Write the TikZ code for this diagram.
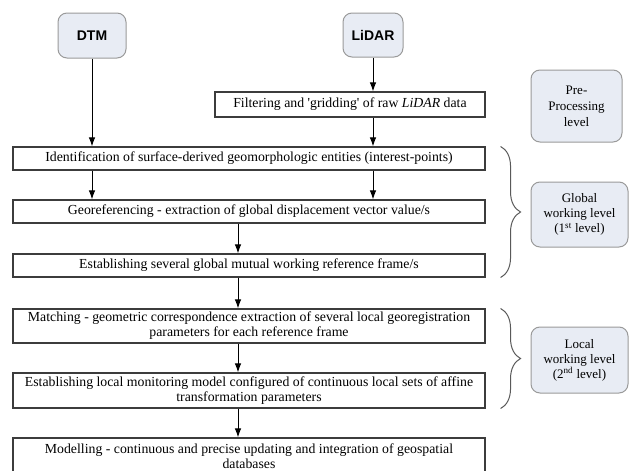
\documentclass[tikz,border=0pt]{standalone}
\usepackage{fontspec}
\setmainfont{Liberation Serif}
\setsansfont{Liberation Sans}
\usetikzlibrary{arrows.meta,decorations.pathreplacing}
\definecolor{boxline}{HTML}{3C3C3C}
\definecolor{srcfill}{HTML}{E8ECF4}
\definecolor{srcline}{HTML}{9A9A9A}
\begin{document}
\begin{tikzpicture}[x=1pt,y=-1pt,>={Latex[length=9pt,width=6.5pt]},
  line width=1pt,
  proc/.style={draw=boxline,fill=white,line width=1.1pt,minimum width=472pt,inner sep=0pt,align=center,font=\fontsize{13.8}{15}\selectfont},
  src/.style={draw=srcline,fill=srcfill,rounded corners=9pt,inner sep=0pt,align=center},
  brc/.style={draw=boxline!85,line width=1pt,decorate,decoration={brace,amplitude=20pt}}]
\useasboundingbox (0,0) rectangle (633,471);
%
\node[src,minimum width=68pt,minimum height=45pt,font=\sffamily\bfseries\fontsize{14}{16}\selectfont](dtm) at (92,35.5) {DTM};
\node[src,minimum width=60pt,minimum height=44pt,font=\sffamily\bfseries\fontsize{14}{16}\selectfont](lidar) at (373,35) {LiDAR};
%
\node[proc,minimum width=270pt,minimum height=25pt](filt) at (350,104.5) {Filtering and \textquotesingle gridding\textquotesingle{} of raw \textit{LiDAR} data};
\draw[->](lidar) -- (lidar |- filt.north) {};
%
\node[src,minimum width=91pt,minimum height=72pt,font=\fontsize{13}{16}\selectfont](pre) at (576.5,106) {Pre-\\Processing\\level};
%
\node[proc,minimum height=23pt](ident) at (249,158.5) {Identification of surface-derived geomorphologic entities (interest-points)};
\draw[->](dtm) -- (dtm |- ident.north) {};
\draw[->](lidar |- filt.south) -- (lidar |- ident.north) {};
%
\node[proc,minimum height=23pt](georef) at (249,211.5) {Georeferencing - extraction of global displacement vector value/s};
\draw[->](ident.south -| dtm) -- (georef.north -| dtm) {};
\draw[->](ident.south -| lidar) -- (georef.north -| lidar) {};
%
\coordinate(ax) at (238,0);
\node[proc,minimum height=23pt](estg) at (249,265.5) {Establishing several global mutual working reference frame/s};
\draw[->](georef.south -| ax) -- (estg.north -| ax) {};
%
\node[src,minimum width=97pt,minimum height=65pt,font=\fontsize{13}{15}\selectfont](glob) at (579.5,214.5) {Global\\working level\\(1\textsuperscript{st} level)};
\draw[brc] ([xshift=15pt]ident.north east) -- ([xshift=15pt]estg.south east);
%
\node[proc,minimum height=34pt](match) at (249,326) {Matching - geometric correspondence extraction of several local georegistration\\parameters for each reference frame};
\draw[->](estg.south -| ax) -- (match.north -| ax) {};
%
\node[proc,minimum height=35pt](estl) at (249,390.5) {Establishing local monitoring model configured of continuous local sets of affine\\transformation parameters};
\draw[->](match.south -| ax) -- (estl.north -| ax) {};
%
\node[src,minimum width=97pt,minimum height=66pt,font=\fontsize{13}{15}\selectfont](loc) at (579.5,360) {Local\\working level\\(2\textsuperscript{nd} level)};
\draw[brc] ([xshift=15pt]match.north east) -- ([xshift=15pt]estl.south east);
%
\node[proc,minimum height=36pt](model) at (249,456) {Modelling - continuous and precise updating and integration of geospatial\\databases};
\draw[->](estl.south -| ax) -- (model.north -| ax) {};
\end{tikzpicture}
\end{document}
